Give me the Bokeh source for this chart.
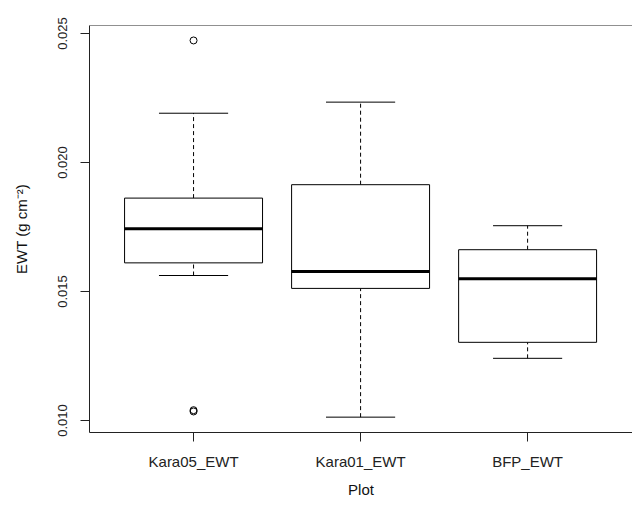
from bokeh.plotting import figure
from bokeh.models import FixedTicker, Range1d, Span, PrintfTickFormatter
from bokeh.embed import file_html
from bokeh.resources import INLINE

# ---- data ----
categories = ["Kara05_EWT", "Kara01_EWT", "BFP_EWT"]
positions = [1, 2, 3]
lower_whisker = [0.01562, 0.01013, 0.01241]
q1 = [0.01611, 0.01512, 0.01303]
median = [0.01743, 0.01578, 0.01549]
q3 = [0.01862, 0.01914, 0.01662]
upper_whisker = [0.02191, 0.02234, 0.01755]
outlier_pos = [1, 1, 1]
outlier_val = [0.02473, 0.01040, 0.01035]
y_ticks = [0.010, 0.015, 0.020, 0.025]

FONT = "Liberation Sans"
BOX_HALF = 0.413
STAPLE_HALF = 0.207

p = figure(width=632, height=500, output_backend="svg", toolbar_location=None,
           x_range=Range1d(0.377, 3.628), y_range=Range1d(0.009535, 0.02531),
           min_border_left=89, min_border_right=0, min_border_top=25, min_border_bottom=68)
p.background_fill_color = "white"
p.border_fill_color = "white"
p.outline_line_color = None
p.grid.visible = False

# whiskers (dashed)
p.segment(x0=positions, y0=q3, x1=positions, y1=upper_whisker,
          line_color="black", line_width=1, line_dash="4 3")
p.segment(x0=positions, y0=lower_whisker, x1=positions, y1=q1,
          line_color="black", line_width=1, line_dash="4 3")
# staples
p.segment(x0=[x - STAPLE_HALF for x in positions], y0=upper_whisker,
          x1=[x + STAPLE_HALF for x in positions], y1=upper_whisker,
          line_color="black", line_width=1)
p.segment(x0=[x - STAPLE_HALF for x in positions], y0=lower_whisker,
          x1=[x + STAPLE_HALF for x in positions], y1=lower_whisker,
          line_color="black", line_width=1)
# boxes
p.quad(left=[x - BOX_HALF for x in positions], right=[x + BOX_HALF for x in positions],
       bottom=q1, top=q3, fill_color="white", line_color="black", line_width=1)
# medians
p.segment(x0=[x - BOX_HALF for x in positions], y0=median,
          x1=[x + BOX_HALF for x in positions], y1=median,
          line_color="black", line_width=3)
# outliers
p.scatter(x=outlier_pos, y=outlier_val, marker="circle", size=7,
          fill_color=None, line_color="black", line_width=1)

# top frame line
p.add_layout(Span(location=p.y_range.end, dimension="width", line_color="#222222", line_width=1))

# axes
xa = p.xaxis[0]
xa.ticker = FixedTicker(ticks=positions)
xa.major_label_overrides = {pos: name for pos, name in zip(positions, categories)}
xa.axis_label = "Plot"
ya = p.yaxis[0]
ya.ticker = FixedTicker(ticks=y_ticks)
ya.formatter = PrintfTickFormatter(format="%.3f")
ya.axis_label = "EWT (g cm\u207b\u00b2)"
ya.major_label_orientation = "vertical"

for ax in (xa, ya):
    ax.axis_line_color = "#222222"
    ax.major_tick_line_color = "#222222"
    ax.minor_tick_line_color = None
    ax.major_tick_in = 0
    ax.major_tick_out = 9
    ax.major_label_text_font = FONT
    ax.major_label_text_color = "#222222"
    ax.axis_label_text_font = FONT
    ax.axis_label_text_font_style = "normal"
    ax.axis_label_text_color = "#111111"
    ax.axis_label_text_font_size = "15px"

xa.major_label_text_font_size = "15px"
xa.major_label_standoff = 11
xa.axis_label_standoff = 8
xa.axis_label_text_baseline = "middle"
ya.major_label_text_font_size = "13px"
ya.major_label_standoff = 13
ya.axis_label_standoff = 26

open("out.html", "w").write(file_html(p, INLINE))
